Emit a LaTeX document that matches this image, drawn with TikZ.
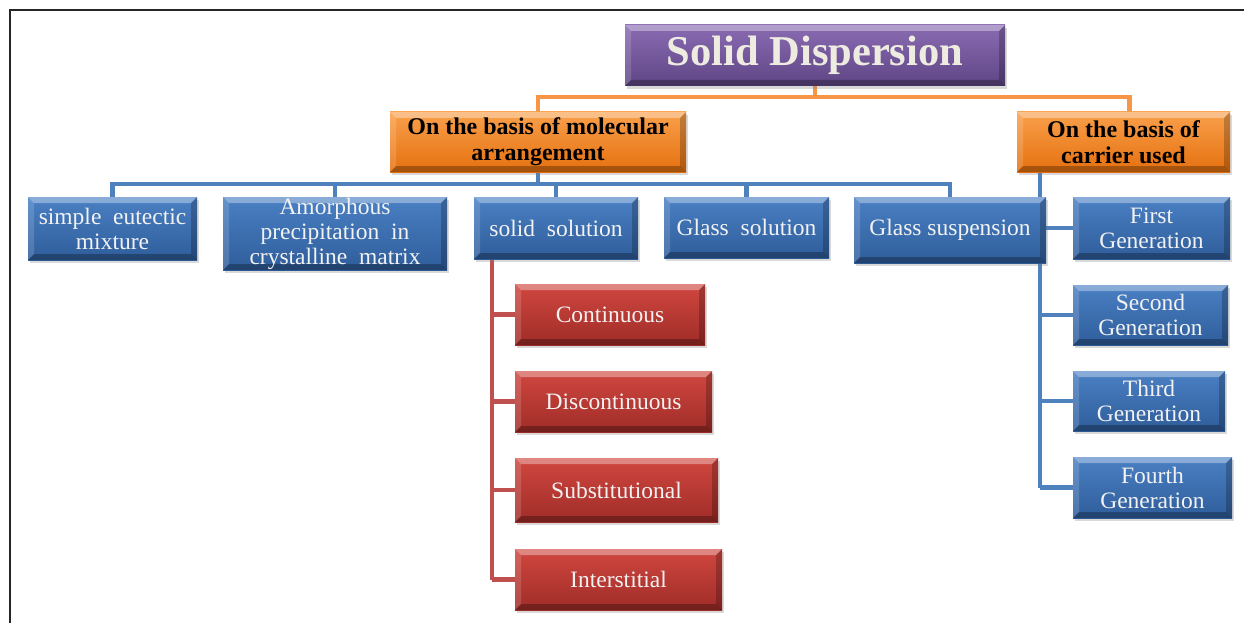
\documentclass[tikz,border=0pt]{standalone}
\usepackage{fontspec}
\setmainfont{Liberation Serif}
\usetikzlibrary{shadows,backgrounds}
\definecolor{bluetop}{HTML}{4A80C4}
\definecolor{bluebot}{HTML}{2F5D9A}
\definecolor{redtop}{HTML}{D0473F}
\definecolor{redbot}{HTML}{A02C28}
\definecolor{ortop}{HTML}{F9A04B}
\definecolor{orbot}{HTML}{E5700F}
\definecolor{purtop}{HTML}{8A6BB2}
\definecolor{purbot}{HTML}{5E4585}
\definecolor{blueline}{HTML}{4F81BD}
\definecolor{redline}{HTML}{C0504D}
\definecolor{orline}{HTML}{F79646}
\definecolor{lighttext}{HTML}{F2F2F2}
\definecolor{titletext}{HTML}{EEECE1}
\tikzset{
  bevel/.style={path picture={
    \fill[white,opacity=0.35] (path picture bounding box.north west) -- (path picture bounding box.north east)
      -- ([shift={(-6pt,-6pt)}]path picture bounding box.north east) -- ([shift={(6pt,-6pt)}]path picture bounding box.north west) -- cycle;
    \fill[white,opacity=0.15] (path picture bounding box.north west) -- ([shift={(6pt,-6pt)}]path picture bounding box.north west)
      -- ([shift={(6pt,6pt)}]path picture bounding box.south west) -- (path picture bounding box.south west) -- cycle;
    \fill[black,opacity=0.22] (path picture bounding box.north east) -- (path picture bounding box.south east)
      -- ([shift={(-6pt,6pt)}]path picture bounding box.south east) -- ([shift={(-6pt,-6pt)}]path picture bounding box.north east) -- cycle;
    \fill[black,opacity=0.28] (path picture bounding box.south west) -- ([shift={(6pt,6pt)}]path picture bounding box.south west)
      -- ([shift={(-6pt,6pt)}]path picture bounding box.south east) -- (path picture bounding box.south east) -- cycle;
  }},
  boxbase/.style={rectangle, inner sep=0pt, align=center, bevel,
    drop shadow={shadow xshift=2pt, shadow yshift=-3pt, opacity=0.3}},
  bluebox/.style={boxbase, top color=bluetop, bottom color=bluebot, text=lighttext,
    font=\fontsize{23.5}{25}\selectfont},
  redbox/.style={boxbase, top color=redtop, bottom color=redbot, text=lighttext,
    font=\fontsize{23.5}{25}\selectfont},
  orbox/.style={boxbase, top color=ortop, bottom color=orbot, text=black,
    font=\bfseries\fontsize{24}{26}\selectfont},
  purbox/.style={boxbase, top color=purtop, bottom color=purbot, text=titletext,
    font=\bfseries\fontsize{42.5}{46}\selectfont},
  bline/.style={draw=blueline, line width=4.5pt},
  rline/.style={draw=redline, line width=4.5pt},
  oline/.style={draw=orline, line width=4.5pt},
  frame/.style={draw=black!85, line width=2pt}
}
\pgfdeclarelayer{bg}
\pgfsetlayers{bg,main}
\begin{document}
\begin{tikzpicture}[x=1pt,y=-1pt]
\useasboundingbox (0,0) rectangle (1244,623);
\coordinate (fa) at (10,623);
\coordinate (fb) at (10,10);
\coordinate (fc) at (1244,10);
\draw[frame] (fa) -- (fb) -- (fc);

\node[purbox, minimum width=380pt, minimum height=61pt] (title) at (815,55.5) {Solid Dispersion};
\node[orbox, minimum width=296pt, minimum height=60pt] (ob1) at (538,142) {On the basis of molecular\\arrangement};
\node[orbox, minimum width=213pt, minimum height=60pt] (ob2) at (1123.5,142) {On the basis of\\carrier used};

\node[bluebox, minimum width=169pt, minimum height=63pt] (se) at (112.5,228.5) {simple\ \ eutectic\\mixture};
\node[bluebox, minimum width=224pt, minimum height=73pt] (am) at (335,233.5) {Amorphous\\precipitation\ \ in\\crystalline\ \ matrix};
\node[bluebox, minimum width=164pt, minimum height=62pt] (ss) at (556,228) {solid\ \ solution};
\node[bluebox, minimum width=165pt, minimum height=61pt] (gs) at (746.5,227.5) {Glass\ \ solution};
\node[bluebox, minimum width=192pt, minimum height=66pt] (gsp) at (950,230) {Glass suspension};

\node[bluebox, minimum width=157pt, minimum height=62pt] (g1) at (1151.5,228) {First\\Generation};
\node[bluebox, minimum width=155pt, minimum height=60pt] (g2) at (1150.5,315) {Second\\Generation};
\node[bluebox, minimum width=152pt, minimum height=60pt] (g3) at (1149,401) {Third\\Generation};
\node[bluebox, minimum width=159pt, minimum height=61pt] (g4) at (1152.5,487.5) {Fourth\\Generation};

\node[redbox, minimum width=190pt, minimum height=61pt] (c1) at (610,314.5) {Continuous};
\node[redbox, minimum width=197pt, minimum height=61pt] (c2) at (613.5,401.5) {Discontinuous};
\node[redbox, minimum width=203pt, minimum height=64pt] (c3) at (616.5,490) {Substitutional};
\node[redbox, minimum width=207pt, minimum height=61pt] (c4) at (618.5,579.5) {Interstitial};

\begin{pgfonlayer}{bg}
\coordinate (ojoin) at (815,97);
\draw[oline] (title.south) -- (ojoin) -| (ob1.north);
\draw[oline] (ojoin) -| ([xshift=6pt]ob2.north);

\coordinate (bjoin) at (538,184);
\draw[bline] (ob1.south) -- (bjoin);
\foreach \n in {se,am,ss,gs,gsp}{
  \draw[bline] (bjoin) -| (\n.north);
}

\coordinate (ctop) at (1040,172);
\coordinate (cbot) at (1040,488);
\draw[bline] (ctop) -- (cbot);
\foreach \n in {g1,g2,g3,g4}{
  \draw[bline] (ctop |- \n.west) -- (\n.west);
}

\coordinate (rtop) at (492,259);
\coordinate (rbot) at (492,580);
\draw[rline] (rtop) -- (rbot);
\foreach \n in {c1,c2,c3,c4}{
  \draw[rline] (rtop |- \n.west) -- (\n.west);
}
\end{pgfonlayer}
\end{tikzpicture}
\end{document}
